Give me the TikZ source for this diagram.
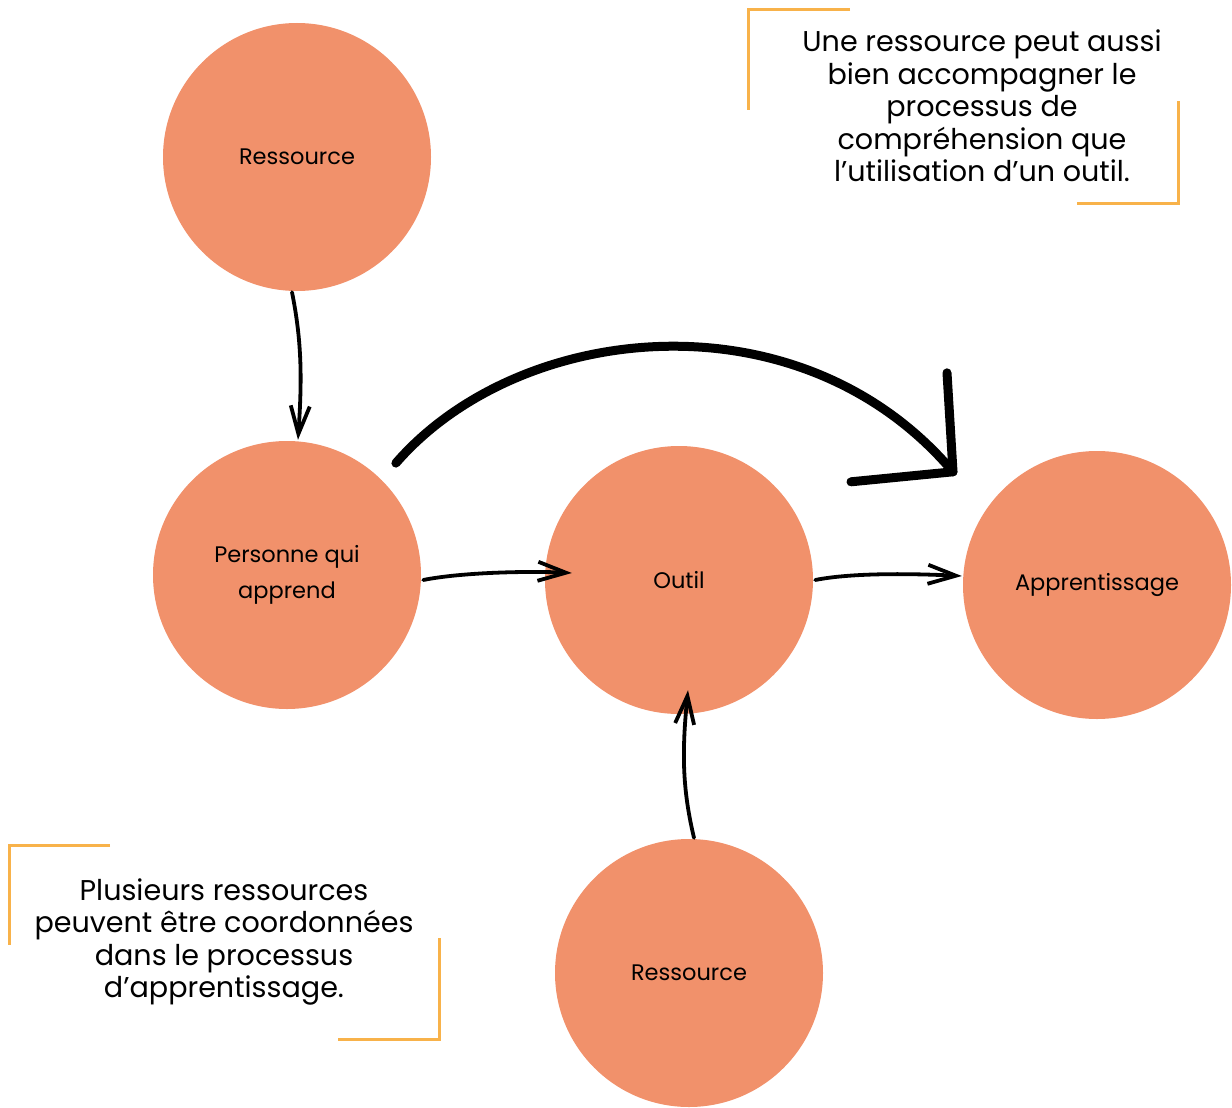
\documentclass[tikz,border=0pt]{standalone}
\usepackage{fontspec}
\setmainfont{Poppins}
\usetikzlibrary{arrows.meta,calc}
\definecolor{salmon}{HTML}{F1916B}
\definecolor{bracketc}{HTML}{F8B24A}
\begin{document}
\begin{tikzpicture}[x=1pt,y=-1pt,
  res/.style={circle,fill=salmon,minimum size=268pt,inner sep=0pt,align=center,
    font=\fontsize{22.5}{36}\selectfont},
  note/.style={align=center,inner sep=0pt,font=\fontsize{28.6}{32.5}\selectfont},
  hand/.style={line width=3.8pt,line cap=round,
    -{Straight Barb[length=28pt,width=19pt,line width=3.8pt]}},
  bigarc/.style={line width=9pt,line cap=round,line join=round},
  brk/.style={draw=bracketc,line width=3pt}]
\useasboundingbox (0,0) rectangle (1232,1108);
\node[res] (r1) at (297,157) {Ressource};
\node[res] (p) at (287,575) {Personne qui\\apprend};
\node[res] (o) at (679,580) {Outil};
\node[res] (a) at (1097,585) {Apprentissage};
\node[res] (r2) at (689,973) {Ressource};
\node[note] (t1) at (982,106) {Une ressource peut aussi\\bien accompagner le\\processus de\\compréhension que\\l’utilisation d’un outil.};
\node[note] (t2) at (224,942) {Plusieurs ressources\\peuvent être coordonnées\\dans le processus\\d’apprentissage.};
% arrows
\draw[hand] ($(r1.south)+(-5,1)$) .. controls +(10,50) and +(4,-60) .. ($(p.north)+(11,-1)$);
\draw[hand] ($(p.east)+(2,5)$) .. controls +(40,-8) and +(-40,-2) .. ($(o.west)+(27,-7)$);
\draw[hand] ($(o.east)+(2,0)$) .. controls +(40,-8) and +(-40,-2) .. ($(a.west)+(-1,-9)$);
\draw[hand] ($(r2.north)+(5,-1)$) .. controls +(-12,-50) and +(-6,60) .. ($(o.south)+(9,-24)$);
% big arc
\coordinate (s) at ($(p.north east)+(14,-17)$);
\coordinate (tip) at ($(a.north)+(-144,21)$);
\coordinate (ah1) at ($(a.north)+(-150,-78)$);
\coordinate (ah2) at ($(a.north)+(-246,31)$);
\draw[bigarc] (s) .. controls +(124,-143) and +(-152,-180) .. (tip);
\draw[bigarc] (ah1) -- (tip) -- (ah2);
% brackets
\draw[brk] (850,10) -- (748,10) -- (748,110);
\draw[brk] (1178,101) -- (1178,203) -- (1077,203);
\draw[brk] (110,845) -- (9,845) -- (9,945);
\draw[brk] (439,938) -- (439,1039) -- (338,1039);
\end{tikzpicture}
\end{document}
